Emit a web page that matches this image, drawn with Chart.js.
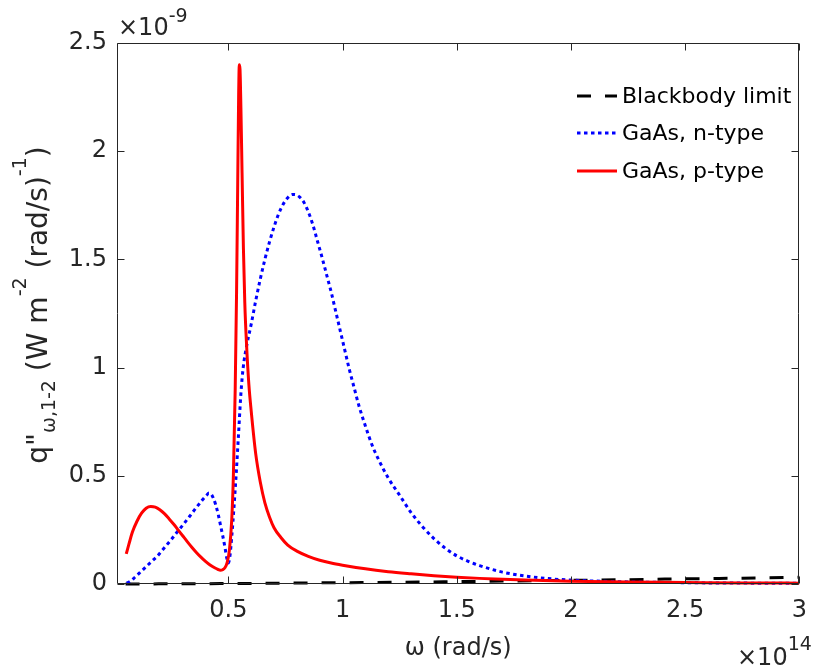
<!DOCTYPE html>
<html><head><meta charset="utf-8">
<script src="https://cdn.jsdelivr.net/npm/chart.js@4.4.0/dist/chart.umd.min.js"></script>
<style>html,body{margin:0;padding:0;background:#fff;}</style>
</head><body>
<canvas id="c" width="819" height="672" style="width:819px;height:672px;display:block"></canvas>
<script>
// x in units of 1e14 rad/s, y in units of 1e-9 W m^-2 (rad/s)^-1
const xTicks = [0.5, 1, 1.5, 2, 2.5, 3];
const yTicks = [0, 0.5, 1, 1.5, 2, 2.5];
const seriesNames = ['Blackbody limit', 'GaAs, n-type', 'GaAs, p-type'];

const bbX = [0.05, 0.25, 0.5, 0.75, 1.0, 1.25, 1.5, 1.75, 2.0, 2.25, 2.5, 2.75, 3.0];
const bbY = [0.0002, 0.0008, 0.002, 0.004, 0.006, 0.008, 0.011, 0.014, 0.017, 0.02, 0.024, 0.027, 0.031];

const nX = [0.055,0.07,0.09,0.11,0.13,0.15,0.17,0.19,0.21,0.23,0.25,0.27,0.29,0.31,0.33,0.35,0.37,0.39,0.405,0.415,0.425,0.435,0.445,0.455,0.465,0.475,0.485,0.493,0.50,0.507,0.515,0.525,0.535,0.545,0.555,0.565,0.58,0.6,0.62,0.64,0.66,0.68,0.70,0.72,0.74,0.76,0.78,0.79,0.81,0.83,0.85,0.87,0.89,0.91,0.93,0.95,0.97,0.99,1.01,1.03,1.05,1.07,1.1,1.13,1.16,1.2,1.25,1.3,1.35,1.4,1.45,1.5,1.55,1.6,1.7,1.8,1.9,2.0,2.2,2.5,3.0];
const nY = [0.004,0.012,0.03,0.05,0.07,0.09,0.11,0.13,0.155,0.18,0.205,0.232,0.258,0.285,0.312,0.34,0.367,0.393,0.41,0.42,0.415,0.395,0.365,0.325,0.275,0.225,0.17,0.12,0.097,0.13,0.22,0.36,0.52,0.7,0.88,1.0,1.1,1.2,1.31,1.41,1.5,1.58,1.65,1.71,1.755,1.785,1.8,1.8,1.79,1.765,1.72,1.66,1.585,1.51,1.43,1.35,1.26,1.17,1.08,0.99,0.91,0.83,0.73,0.64,0.57,0.49,0.41,0.33,0.265,0.21,0.165,0.13,0.105,0.085,0.055,0.037,0.025,0.018,0.011,0.006,0.003];

const pX = [0.053,0.065,0.08,0.10,0.12,0.14,0.16,0.18,0.20,0.22,0.24,0.26,0.28,0.30,0.32,0.34,0.36,0.38,0.40,0.42,0.44,0.455,0.465,0.475,0.485,0.495,0.505,0.515,0.522,0.53,0.536,0.541,0.545,0.548,0.551,0.555,0.56,0.566,0.572,0.58,0.59,0.60,0.62,0.64,0.66,0.68,0.70,0.73,0.76,0.80,0.85,0.90,0.95,1.0,1.1,1.2,1.3,1.4,1.5,1.6,1.7,1.8,2.0,2.25,2.5,2.75,3.0];
const pY = [0.139,0.185,0.24,0.29,0.327,0.35,0.358,0.355,0.343,0.325,0.302,0.277,0.25,0.223,0.196,0.17,0.146,0.124,0.105,0.088,0.075,0.067,0.064,0.066,0.075,0.1,0.16,0.3,0.5,0.9,1.35,1.85,2.25,2.40,2.38,2.2,1.9,1.55,1.3,1.1,0.92,0.8,0.6,0.47,0.375,0.31,0.26,0.215,0.18,0.152,0.128,0.11,0.097,0.087,0.07,0.057,0.047,0.038,0.031,0.026,0.022,0.018,0.013,0.009,0.007,0.005,0.004];

const yLabelParts = [['q"',0],['\u03c9,1-2',1],[' (W m',0],['-2',2],[' (rad/s)',0],['-1',2],[')',0]];
const xLabel = '\u03c9 (rad/s)';

const pts = (xs, ys) => xs.map((x, i) => ({x: x, y: ys[i]}));
const AX = '#262626';
const FONT = '"DejaVu Sans", sans-serif';

function drawRich(ctx, parts, mainPx, smallPx, subDy, supDy, cx) {
  const fonts = [mainPx + 'px ' + FONT, smallPx + 'px ' + FONT, smallPx + 'px ' + FONT];
  const dys = [0, subDy, supDy];
  let total = 0;
  parts.forEach(p => { ctx.font = fonts[p[1]]; total += ctx.measureText(p[0]).width; });
  let x = cx === undefined ? -total / 2 : cx;
  parts.forEach(p => {
    ctx.font = fonts[p[1]];
    ctx.fillText(p[0], x, dys[p[1]]);
    x += ctx.measureText(p[0]).width;
  });
}

const decor = {
  id: 'decor',
  afterDraw(chart) {
    const ctx = chart.ctx, a = chart.chartArea;
    const xs = chart.scales.x, ys = chart.scales.y;
    ctx.save();
    ctx.strokeStyle = AX; ctx.lineWidth = 1;
    const L = Math.round(a.left) + 0.5, R = Math.round(a.right) - 0.5;
    const T = Math.round(a.top) + 0.5, B = Math.round(a.bottom) - 0.5;
    ctx.beginPath();
    ctx.rect(L, T, R - L, B - T);
    const tl = 7;
    xTicks.forEach(v => {
      const px = Math.round(xs.getPixelForValue(v)) + 0.5;
      ctx.moveTo(px, B); ctx.lineTo(px, B - tl);
      ctx.moveTo(px, T); ctx.lineTo(px, T + tl);
    });
    yTicks.forEach(v => {
      const py = Math.round(ys.getPixelForValue(v)) + 0.5;
      ctx.moveTo(L, py); ctx.lineTo(L + tl, py);
      ctx.moveTo(R, py); ctx.lineTo(R - tl, py);
    });
    ctx.stroke();

    // legend
    const ds = chart.data.datasets;
    const rows = [96, 133, 171];
    seriesNames.forEach((name, i) => {
      const d = ds.find(s => s.label === name);
      const y = rows[i];
      ctx.save();
      ctx.strokeStyle = d.borderColor; ctx.lineWidth = d.borderWidth;
      ctx.setLineDash(d.borderDash || []);
      ctx.lineCap = 'butt';
      ctx.beginPath(); ctx.moveTo(577, y); ctx.lineTo(617, y); ctx.stroke();
      ctx.restore();
      ctx.fillStyle = '#000';
      ctx.font = '22px ' + FONT;
      ctx.textBaseline = 'middle';
      ctx.textAlign = 'left';
      ctx.fillText(name, 622, y + 1);
    });

    // exponent labels
    ctx.fillStyle = AX;
    ctx.textBaseline = 'alphabetic';
    ctx.textAlign = 'left';
    ctx.save(); ctx.translate(118, 35);
    drawRich(ctx, [['\u00d710',0],['-9',2]], 24, 19, 8, -13, 0);
    ctx.restore();
    ctx.save(); ctx.translate(737, 665);
    drawRich(ctx, [['\u00d710',0],['14',2]], 24, 19, 8, -15, 0);
    ctx.restore();

    // x label
    ctx.font = '24px ' + FONT;
    ctx.textAlign = 'center';
    ctx.fillText(xLabel, (a.left + a.right) / 2, 655);

    // y label (rotated)
    ctx.textAlign = 'left';
    ctx.save();
    ctx.translate(47, 305);
    ctx.rotate(-Math.PI / 2);
    drawRich(ctx, yLabelParts, 28, 19, 8, -21);
    ctx.restore();
    ctx.restore();
  }
};

const clipOut = {left: 0, top: 0, right: 0, bottom: 4};
new Chart(document.getElementById('c'), {
  type: 'scatter',
  data: {
    datasets: [
      {label: seriesNames[0], data: pts(bbX, bbY), showLine: true, borderColor: '#000000', borderWidth: 3, borderDash: [14, 14], pointRadius: 0, order: 3, clip: clipOut, cubicInterpolationMode: 'monotone'},
      {label: seriesNames[1], data: pts(nX, nY), showLine: true, borderColor: '#0000ff', borderWidth: 3, borderDash: [3.5, 3.5], pointRadius: 0, order: 2, clip: clipOut, cubicInterpolationMode: 'monotone'},
      {label: seriesNames[2], data: pts(pX, pY), showLine: true, borderColor: '#ff0000', borderWidth: 3, pointRadius: 0, order: 1, clip: clipOut, cubicInterpolationMode: 'monotone'}
    ]
  },
  options: {
    responsive: false,
    animation: false,
    layout: {padding: {left: 0, right: 8, top: 43, bottom: 0}},
    plugins: {legend: {display: false}, tooltip: {enabled: false}},
    scales: {
      x: {
        type: 'linear', min: 0.0125, max: 3,
        afterBuildTicks: s => { s.ticks = xTicks.map(v => ({value: v})); },
        afterFit: s => { s.height = 88; },
        grid: {display: false, drawTicks: false}, border: {display: false},
        ticks: {color: AX, font: {family: FONT, size: 24}, padding: 12, maxRotation: 0, autoSkip: false, callback: v => String(v)}
      },
      y: {
        type: 'linear', min: 0, max: 2.5,
        afterBuildTicks: s => { s.ticks = yTicks.map(v => ({value: v})); },
        afterFit: s => { s.width = 117; },
        grid: {display: false, drawTicks: false}, border: {display: false},
        ticks: {color: AX, font: {family: FONT, size: 24}, padding: 10, autoSkip: false, callback: v => String(v)}
      }
    }
  },
  plugins: [decor]
});
</script>
</body></html>
